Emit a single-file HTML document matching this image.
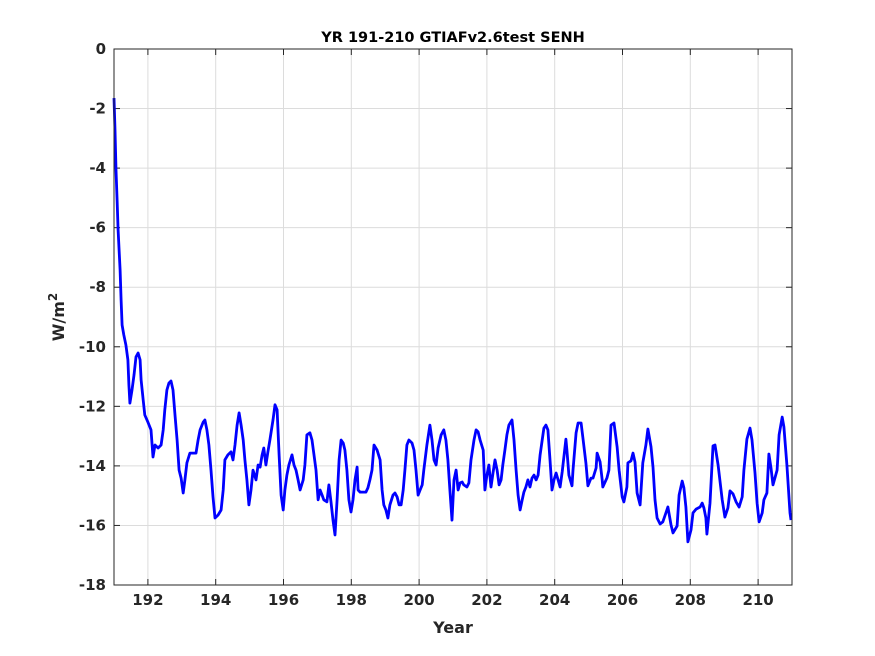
<!DOCTYPE html>
<html><head><meta charset="utf-8"><style>
body{margin:0;background:#fff;}
svg{display:block;font-family:"DejaVu Sans","Liberation Sans",sans-serif;}
</style></head><body>
<svg id="chart" width="875" height="656" viewBox="0 0 875 656" xmlns="http://www.w3.org/2000/svg">
<rect x="0" y="0" width="875" height="656" fill="#fff"/>
<rect x="114" y="49" width="678" height="536" fill="#fff"/>
<g id="grid"></g>
<g id="ticks"></g>
<path id="series" fill="none" stroke="#0000ff" stroke-width="2.8" stroke-linejoin="round"/>
<rect x="114" y="49" width="678" height="536" fill="none" stroke="#262626" stroke-width="1"/>
<text x="453" y="42" text-anchor="middle" font-size="14.5" font-weight="bold" fill="#000">YR 191-210 GTIAFv2.6test SENH</text>
<text x="453" y="633" text-anchor="middle" font-size="16" font-weight="bold" fill="#262626">Year</text>
<text transform="translate(64,317) rotate(-90)" text-anchor="middle" font-size="16" font-weight="bold" fill="#262626">W/m<tspan dy="-7" font-size="12">2</tspan></text>
</svg>
<script>
const xTicks=[192,194,196,198,200,202,204,206,208,210];
const yTicks=[0,-2,-4,-6,-8,-10,-12,-14,-16,-18];
const years=[191.00,191.03,191.06,191.09,191.12,191.18,191.21,191.24,191.29,191.35,191.41,191.44,191.47,191.53,191.59,191.65,191.71,191.77,191.80,191.86,191.91,192.00,192.09,192.15,192.21,192.30,192.39,192.45,192.50,192.56,192.62,192.68,192.74,192.80,192.86,192.92,192.98,193.04,193.09,193.15,193.24,193.33,193.42,193.48,193.54,193.63,193.68,193.74,193.80,193.86,193.92,193.98,194.07,194.16,194.22,194.27,194.36,194.45,194.51,194.57,194.63,194.69,194.75,194.81,194.86,194.92,194.98,195.04,195.10,195.19,195.25,195.31,195.37,195.42,195.48,195.54,195.60,195.69,195.75,195.81,195.87,195.93,195.99,196.04,196.10,196.16,196.25,196.31,196.37,196.43,196.49,196.58,196.63,196.69,196.78,196.84,196.90,196.96,197.02,197.08,197.14,197.19,197.28,197.34,197.40,197.46,197.52,197.58,197.64,197.70,197.76,197.81,197.87,197.93,197.99,198.05,198.11,198.17,198.20,198.26,198.35,198.43,198.49,198.55,198.61,198.67,198.76,198.85,198.91,198.96,199.02,199.08,199.14,199.23,199.29,199.35,199.41,199.47,199.53,199.58,199.64,199.70,199.79,199.85,199.91,199.97,200.03,200.09,200.14,200.23,200.32,200.38,200.44,200.50,200.56,200.65,200.73,200.79,200.85,200.91,200.97,201.03,201.09,201.15,201.21,201.27,201.32,201.41,201.47,201.53,201.62,201.68,201.74,201.80,201.89,201.94,202.00,202.06,202.12,202.18,202.24,202.30,202.36,202.42,202.47,202.53,202.59,202.65,202.74,202.80,202.86,202.92,202.98,203.04,203.09,203.15,203.21,203.27,203.33,203.39,203.45,203.51,203.57,203.63,203.68,203.74,203.80,203.86,203.92,203.98,204.04,204.10,204.16,204.22,204.30,204.33,204.36,204.42,204.51,204.54,204.63,204.69,204.78,204.83,204.92,204.98,205.07,205.13,205.22,205.25,205.34,205.40,205.42,205.54,205.60,205.66,205.75,205.84,205.90,205.99,206.04,206.13,206.16,206.25,206.31,206.37,206.43,206.52,206.60,206.69,206.75,206.84,206.90,206.96,207.02,207.11,207.19,207.28,207.34,207.43,207.49,207.61,207.67,207.76,207.81,207.87,207.93,208.02,208.08,208.17,208.29,208.35,208.40,208.46,208.49,208.58,208.67,208.73,208.82,208.88,208.94,209.02,209.11,209.17,209.26,209.35,209.44,209.53,209.58,209.67,209.76,209.82,209.91,209.97,210.03,210.12,210.17,210.26,210.32,210.38,210.44,210.56,210.62,210.71,210.76,210.85,210.94,210.97];
const values=[-1.65,-2.72,-4.06,-5.07,-6.08,-7.42,-8.43,-9.27,-9.60,-9.94,-10.44,-11.28,-11.89,-11.45,-10.95,-10.34,-10.21,-10.44,-11.11,-11.79,-12.29,-12.53,-12.79,-13.70,-13.30,-13.40,-13.30,-12.79,-12.12,-11.45,-11.22,-11.15,-11.45,-12.29,-13.13,-14.14,-14.41,-14.91,-14.47,-13.90,-13.57,-13.57,-13.57,-13.13,-12.79,-12.53,-12.46,-12.79,-13.30,-14.14,-15.04,-15.75,-15.65,-15.48,-14.81,-13.80,-13.63,-13.53,-13.80,-13.30,-12.63,-12.22,-12.63,-13.13,-13.80,-14.47,-15.31,-14.81,-14.14,-14.47,-13.97,-14.04,-13.63,-13.40,-13.97,-13.53,-13.13,-12.46,-11.95,-12.12,-13.63,-14.98,-15.48,-14.81,-14.31,-13.97,-13.63,-13.97,-14.14,-14.47,-14.81,-14.47,-13.97,-12.96,-12.89,-13.13,-13.63,-14.14,-15.14,-14.81,-14.98,-15.14,-15.21,-14.64,-15.21,-15.82,-16.32,-15.14,-13.80,-13.13,-13.23,-13.47,-14.14,-15.14,-15.55,-15.14,-14.47,-14.04,-14.81,-14.88,-14.88,-14.88,-14.74,-14.47,-14.14,-13.30,-13.47,-13.80,-14.81,-15.31,-15.48,-15.75,-15.31,-14.98,-14.91,-15.04,-15.31,-15.31,-14.81,-14.14,-13.30,-13.13,-13.23,-13.47,-14.14,-14.98,-14.81,-14.64,-14.14,-13.30,-12.63,-13.13,-13.80,-13.97,-13.40,-12.96,-12.79,-13.13,-13.80,-14.81,-15.82,-14.47,-14.14,-14.81,-14.57,-14.54,-14.64,-14.71,-14.57,-13.80,-13.13,-12.79,-12.86,-13.13,-13.47,-14.81,-14.31,-13.97,-14.71,-14.24,-13.80,-14.14,-14.64,-14.47,-13.97,-13.47,-12.96,-12.63,-12.46,-13.13,-14.14,-14.98,-15.48,-15.14,-14.88,-14.71,-14.47,-14.71,-14.41,-14.31,-14.47,-14.31,-13.63,-13.13,-12.73,-12.63,-12.79,-13.80,-14.81,-14.47,-14.24,-14.47,-14.71,-14.20,-13.40,-13.10,-13.47,-14.31,-14.67,-14.14,-12.89,-12.56,-12.56,-13.03,-13.90,-14.67,-14.41,-14.41,-14.07,-13.57,-13.87,-14.47,-14.71,-14.41,-14.14,-12.63,-12.56,-13.36,-14.14,-15.04,-15.21,-14.71,-13.90,-13.83,-13.57,-13.87,-14.91,-15.31,-13.90,-13.30,-12.76,-13.36,-14.04,-15.14,-15.75,-15.95,-15.88,-15.58,-15.38,-15.98,-16.25,-16.02,-14.98,-14.51,-14.74,-15.38,-16.55,-16.15,-15.58,-15.45,-15.38,-15.25,-15.41,-15.75,-16.29,-15.25,-13.33,-13.30,-13.97,-14.54,-15.14,-15.72,-15.41,-14.84,-14.94,-15.21,-15.38,-15.04,-14.14,-13.10,-12.73,-13.13,-14.24,-15.25,-15.88,-15.58,-15.14,-14.91,-13.60,-14.07,-14.64,-14.14,-12.96,-12.36,-12.69,-13.97,-15.58,-15.82];
const X0=114,X1=792,Y0=49,Y1=585,XMIN=191,XMAX=211,YMIN=-18,YMAX=0;
function xs(v){return X0+(v-XMIN)/(XMAX-XMIN)*(X1-X0);}
function ys(v){return Y0+(YMAX-v)/(YMAX-YMIN)*(Y1-Y0);}
const NS='http://www.w3.org/2000/svg';
const grid=document.getElementById('grid'),ticks=document.getElementById('ticks');
function mk(tag,attrs,parent){const e=document.createElementNS(NS,tag);for(const k in attrs)e.setAttribute(k,attrs[k]);parent.appendChild(e);return e;}
xTicks.forEach(t=>{const x=xs(t);
 const g=mk('line',{x1:x,y1:Y0,x2:x,y2:Y1,stroke:'#dcdcdc','stroke-width':1},grid);
 
 
 const tk=mk('line',{x1:x,y1:Y1,x2:x,y2:Y1-6,stroke:'#262626'},ticks);
 
 
 const tk2=mk('line',{x1:x,y1:Y0,x2:x,y2:Y0+6,stroke:'#262626'},ticks);
 
 
 const l=mk('text',{x:x,y:Y1+20,'text-anchor':'middle','font-size':15,'font-weight':'bold',fill:'#262626'},ticks);
 l.textContent=t;
 
 
});
yTicks.forEach(t=>{const y=ys(t);
 const g=mk('line',{x1:X0,y1:y,x2:X1,y2:y,stroke:'#dcdcdc','stroke-width':1},grid);
 
 
 const tk=mk('line',{x1:X0,y1:y,x2:X0+6,y2:y,stroke:'#262626'},ticks);
 
 
 const tk2=mk('line',{x1:X1,y1:y,x2:X1-6,y2:y,stroke:'#262626'},ticks);
 
 
 const l=mk('text',{x:X0-8,y:y+5,'text-anchor':'end','font-size':15,'font-weight':'bold',fill:'#262626'},ticks);
 l.textContent=t;
 
 
});
let d='';
for(let i=0;i<years.length;i++){d+=(i?'L':'M')+xs(years[i]).toFixed(1)+' '+ys(values[i]).toFixed(1);}
document.getElementById('series').setAttribute('d',d);
</script>
</body></html>
